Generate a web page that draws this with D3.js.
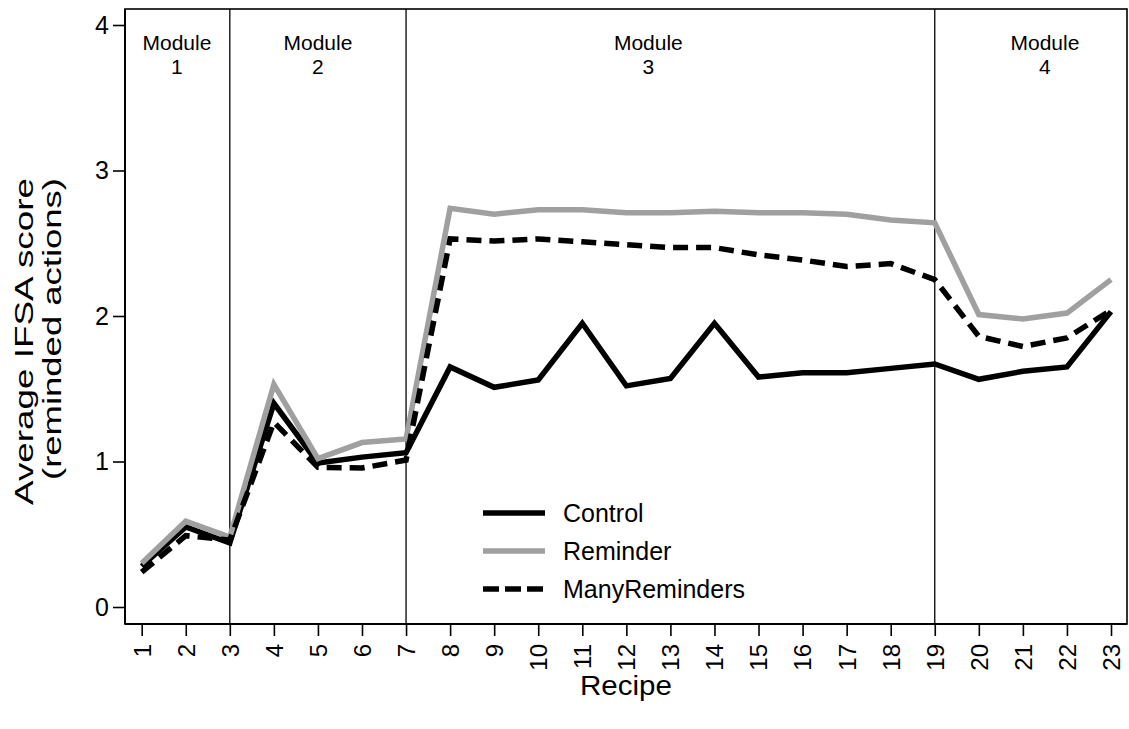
<!DOCTYPE html>
<html><head><meta charset="utf-8">
<script src="https://cdn.jsdelivr.net/npm/d3@7/dist/d3.min.js"></script>
<style>body{margin:0;background:#fff;}text{font-family:"Liberation Sans",Arial,sans-serif;fill:#000;}</style>
</head><body><svg id="c" width="1129" height="729"></svg>
<script>
const recipes = d3.range(1, 24);
const control = [0.28,0.55,0.44,1.40,0.99,1.03,1.06,1.65,1.51,1.56,1.95,1.52,1.57,1.95,1.58,1.61,1.61,1.64,1.67,1.565,1.62,1.65,2.03];
const reminder = [0.30,0.59,0.48,1.53,1.02,1.13,1.155,2.74,2.70,2.73,2.73,2.71,2.71,2.72,2.71,2.71,2.70,2.66,2.64,2.01,1.98,2.02,2.25];
const manyReminders = [0.24,0.49,0.46,1.27,0.96,0.955,1.01,2.53,2.515,2.53,2.51,2.49,2.47,2.47,2.42,2.385,2.34,2.36,2.25,1.86,1.79,1.85,2.04];
const seriesNames = ["Control","Reminder","ManyReminders"];
const moduleBreaks = [3,7,19];
const moduleLabels = ["Module","Module","Module","Module"];
const moduleNums = ["1","2","3","4"];
const moduleLabelAt = [1.8,5,12.5,21.5];
const yTicks = [0,1,2,3,4];
const yTitle = ["Average IFSA score","(reminded actions)"];
const xTitle = "Recipe";

const svg = d3.select("#c");
const L=125, R=1127, T=9, B=624;
const x = d3.scaleLinear().domain([1,23]).range([141.7,1111]);
const y = d3.scaleLinear().domain([0,4]).range([607,25]);

const styles = [
  {color:"#000", dash:null},
  {color:"#a0a0a0", dash:null},
  {color:"#000", dash:"15,8"}
];
const data = [control, reminder, manyReminders];

// frame
svg.append("rect").attr("x",L).attr("y",T).attr("width",R-L).attr("height",B-T)
  .attr("fill","none").attr("stroke","#000").attr("stroke-width",1.6);

// module separators
svg.selectAll(".mb").data(moduleBreaks).join("line")
  .attr("x1",d=>x(d)).attr("x2",d=>x(d)).attr("y1",T).attr("y2",B)
  .attr("stroke","#000").attr("stroke-width",1.3);

// module labels
moduleLabelAt.forEach((m,i)=>{
  svg.append("text").attr("x",x(m)).attr("y",50).attr("text-anchor","middle").attr("font-size",21).text(moduleLabels[i]);
  svg.append("text").attr("x",x(m)).attr("y",74).attr("text-anchor","middle").attr("font-size",21).text(moduleNums[i]);
});

// lines
const line = d3.line().x((d,i)=>x(recipes[i])).y(d=>y(d));
data.forEach((s,k)=>{
  svg.append("path").datum(s).attr("d",line).attr("fill","none")
    .attr("stroke",styles[k].color).attr("stroke-width",5.5)
    .attr("stroke-linejoin","miter").attr("stroke-dasharray",styles[k].dash);
});

// axes
const yAxis = d3.axisLeft(y).tickValues(yTicks).tickSize(12).tickPadding(4).tickFormat(d3.format("d"));
const gy = svg.append("g").attr("transform",`translate(${L},0)`).call(yAxis);
gy.select(".domain").remove();
gy.selectAll("line").attr("stroke-width",1.6);
gy.selectAll("text").attr("font-size",25).attr("font-family","Liberation Sans, Arial, sans-serif");

const xAxis = d3.axisBottom(x).tickValues(recipes).tickSize(12).tickFormat(d3.format("d"));
const gx = svg.append("g").attr("transform",`translate(0,${B})`).call(xAxis);
gx.select(".domain").remove();
gx.selectAll("line").attr("stroke-width",1.6);
gx.selectAll("text").attr("font-size",24).attr("font-family","Liberation Sans, Arial, sans-serif")
  .attr("transform","rotate(-90)").attr("text-anchor","end").attr("x",-20).attr("y",0).attr("dy","0.35em");

// axis lines thicker
svg.append("line").attr("x1",L).attr("x2",L).attr("y1",T).attr("y2",B).attr("stroke","#000").attr("stroke-width",2);
svg.append("line").attr("x1",L).attr("x2",R).attr("y1",B).attr("y2",B).attr("stroke","#000").attr("stroke-width",2);

// titles
svg.append("text").attr("x",(L+R)/2).attr("y",695).attr("text-anchor","middle").attr("font-size",27)
  .attr("textLength",92).attr("lengthAdjust","spacingAndGlyphs").text(xTitle);
const yt = svg.append("text").attr("transform",`translate(33,178) rotate(-90)`).attr("text-anchor","end").attr("font-size",26);
yt.append("tspan").attr("x",0).attr("y",0).attr("textLength",327).attr("lengthAdjust","spacingAndGlyphs").text(yTitle[0]);
yt.append("tspan").attr("x",0).attr("y",28).attr("textLength",302).attr("lengthAdjust","spacingAndGlyphs").text(yTitle[1]);

// legend
const lg = svg.append("g");
seriesNames.forEach((n,i)=>{
  const yy = 513 + i*38;
  lg.append("line").attr("x1",483).attr("x2",545).attr("y1",yy).attr("y2",yy)
    .attr("stroke",styles[i].color).attr("stroke-width",5.5).attr("stroke-dasharray",i===2?"16,6":null);
  lg.append("text").attr("x",563).attr("y",yy).attr("dy","0.35em").attr("font-size",25).text(n);
});
</script></body></html>
